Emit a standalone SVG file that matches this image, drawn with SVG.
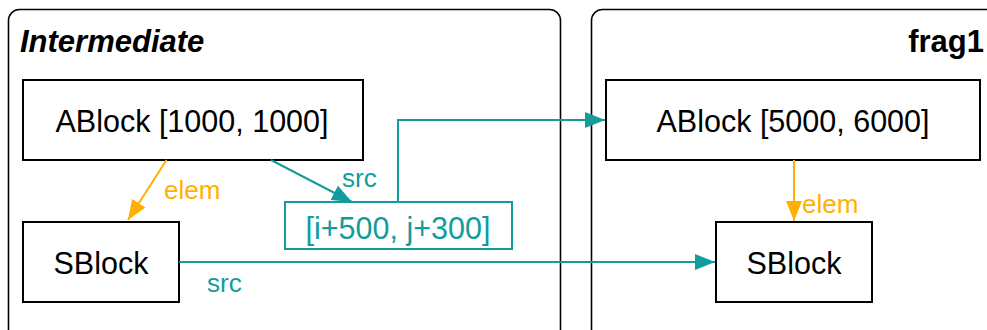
<svg xmlns="http://www.w3.org/2000/svg" width="987" height="330" viewBox="0 0 987 330">
  <defs>
    <marker id="arrTeal" viewBox="0 0 20 16" refX="20" refY="8" markerWidth="20" markerHeight="16" markerUnits="userSpaceOnUse" orient="auto">
      <path d="M0,0 L20,8 L0,16 Z" fill="#129c9c"/>
    </marker>
    <marker id="arrOrange" viewBox="0 0 20 16" refX="20" refY="8" markerWidth="20" markerHeight="16" markerUnits="userSpaceOnUse" orient="auto">
      <path d="M0,0 L20,8 L0,16 Z" fill="#ffb000"/>
    </marker>
  </defs>
  <style>
    .container { fill: #ffffff; stroke: #000000; stroke-width: 1.6; }
    .node { fill: #ffffff; stroke: #000000; stroke-width: 2; }
    .tealnode { fill: #ffffff; stroke: #129c9c; stroke-width: 2; }
    .label { font-family: "Liberation Sans", Arial, sans-serif; font-size: 30.5px; fill: #000000; text-anchor: middle; }
    .teallabel { font-family: "Liberation Sans", Arial, sans-serif; font-size: 30.5px; fill: #129c9c; text-anchor: middle; }
    .title { font-family: "Liberation Sans", Arial, sans-serif; font-size: 31px; font-weight: bold; fill: #000000; }
    .teal { fill: none; stroke: #129c9c; stroke-width: 2; }
    .orange { fill: none; stroke: #ffb000; stroke-width: 2; }
    .elabel { font-family: "Liberation Sans", Arial, sans-serif; font-size: 26px; }
  </style>

  <g id="cluster-intermediate">
    <rect class="container" x="8.5" y="9.5" width="552" height="340" rx="11" ry="11"/>
    <text class="title" x="20" y="52" font-style="italic">Intermediate</text>
  </g>
  <g id="cluster-frag1">
    <rect class="container" x="591.5" y="9.5" width="420" height="340" rx="11" ry="11"/>
    <text class="title" x="984" y="52" text-anchor="end">frag1</text>
  </g>

  <g id="node-ablock1">
    <rect class="node" x="23" y="80" width="340" height="80"/>
    <text class="label" x="192" y="132">ABlock [1000, 1000]</text>
  </g>
  <g id="node-sblock1">
    <rect class="node" x="23" y="222" width="156" height="80"/>
    <text class="label" x="101" y="274">SBlock</text>
  </g>
  <g id="node-offset">
    <rect class="tealnode" x="285" y="202" width="227" height="47"/>
    <text class="teallabel" x="398" y="238.5">[i+500, j+300]</text>
  </g>
  <g id="node-ablock2">
    <rect class="node" x="606" y="80" width="374" height="80"/>
    <text class="label" x="793" y="132">ABlock [5000, 6000]</text>
  </g>
  <g id="node-sblock2">
    <rect class="node" x="716" y="222" width="156" height="80"/>
    <text class="label" x="794" y="274">SBlock</text>
  </g>

  <g id="connectors">
    <path class="orange" d="M166.5,160 L128,220" marker-end="url(#arrOrange)"/>
    <text class="elabel" x="164" y="199" fill="#ffb000">elem</text>

    <path class="teal" d="M271,160 L352,202" marker-end="url(#arrTeal)"/>
    <text class="elabel" x="342" y="187" fill="#129c9c">src</text>

    <path class="teal" d="M398,202 L398,120 L605,120" marker-end="url(#arrTeal)"/>

    <path class="teal" d="M179,262 L715,262" marker-end="url(#arrTeal)"/>
    <text class="elabel" x="207" y="292" fill="#129c9c">src</text>

    <path class="orange" d="M794,160 L794,221" marker-end="url(#arrOrange)"/>
    <text class="elabel" x="802" y="213" fill="#ffb000">elem</text>
  </g>
</svg>
